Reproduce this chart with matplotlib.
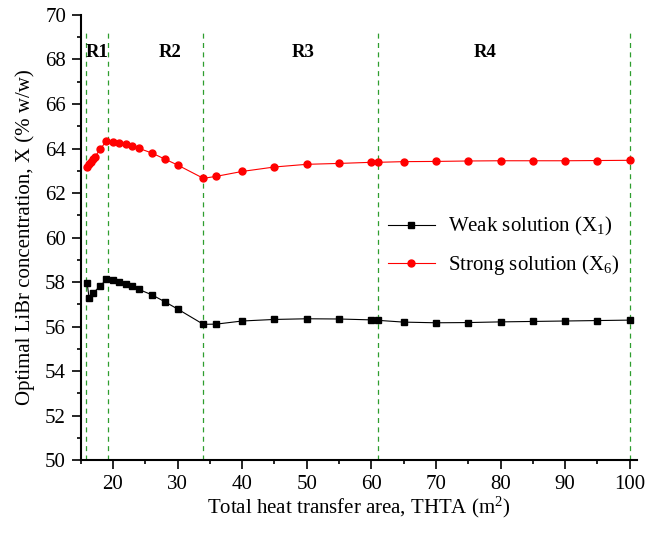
import matplotlib
matplotlib.use("Agg")
import matplotlib.pyplot as plt

plt.rcParams['font.family'] = ['Liberation Serif', 'DejaVu Serif']
plt.rcParams['mathtext.fontset'] = 'custom'
plt.rcParams['mathtext.rm'] = 'Liberation Serif'
plt.rcParams['mathtext.it'] = 'Liberation Serif'

# weak solution (X1)
weak_x = [16, 16.3, 16.9, 18, 19, 20, 21, 22, 23, 24, 26, 28, 30, 34, 36, 40,
          45, 50, 55, 60, 61, 65, 70, 75, 80, 85, 90, 95, 100]
weak_y = [57.97, 57.30, 57.49, 57.82, 58.12, 58.08, 58.00, 57.91, 57.81, 57.67,
          57.43, 57.12, 56.79, 56.10, 56.11, 56.25,
          56.32, 56.35, 56.34, 56.30, 56.28, 56.20, 56.17, 56.18, 56.21, 56.23,
          56.25, 56.27, 56.29]

# strong solution (X6)
strong_x = [16, 16.3, 16.6, 16.9, 17.2, 18, 19, 20, 21, 22, 23, 24, 26, 28, 30,
            34, 36, 40, 45, 50, 55, 60, 61, 65, 70, 75, 80, 85, 90, 95, 100]
strong_y = [63.16, 63.29, 63.38, 63.51, 63.62, 63.96, 64.34, 64.31, 64.26, 64.19,
            64.10, 64.01, 63.80, 63.53, 63.26, 62.66, 62.75, 62.97, 63.17, 63.29,
            63.33, 63.38, 63.38, 63.41, 63.42, 63.44, 63.45, 63.45, 63.45, 63.46,
            63.47]

# region boundaries and labels
bounds = [15.85, 19.2, 34, 61, 100]
region_names = ['R1', 'R2', 'R3', 'R4']
region_x = [17.6, 28.8, 49.4, 77.6]

fig = plt.figure(figsize=(6.61, 5.35), dpi=100)
ax = fig.add_axes([0.122, 0.14, 0.8415, 0.832])

ax.vlines(bounds, 50, 69.2, colors='#2e9e2e', linestyles=(0, (4, 3.5)), linewidth=0.9)

ax.plot(weak_x, weak_y, color='black', marker='s', markersize=4.3, linewidth=0.8,
        label='Weak solution (X$_1$)')
ax.plot(strong_x, strong_y, color='red', marker='o', markersize=5, linewidth=0.8,
        label='Strong solution (X$_6$)')

for name, xx in zip(region_names, region_x):
    ax.text(xx, 68.3, name, ha='center', va='center', fontsize=13.5, fontweight='bold')

ax.set_xlim(15, 101.1)
ax.set_ylim(50, 70)
ax.set_xticks(range(20, 101, 10))
ax.set_xticks(range(15, 101, 5), minor=True)
ax.set_yticks(range(50, 71, 2))
ax.set_yticks(range(50, 71, 1), minor=True)
ax.tick_params(axis='both', which='major', direction='out', length=6.5, width=1.2,
               labelsize=15, pad=4)
ax.tick_params(axis='both', which='minor', direction='out', length=3, width=1.2)
for side in ['top', 'right']:
    ax.spines[side].set_visible(False)
for side in ['left', 'bottom']:
    ax.spines[side].set_linewidth(1.5)

ax.set_xlabel('Total heat transfer area, THTA (m$^2$)', fontsize=15, labelpad=1)
ax.set_ylabel('Optimal LiBr concentration, X (% w/w)', fontsize=15, labelpad=7)

ax.legend(loc='upper left', bbox_to_anchor=(0.518, 0.592), frameon=False, fontsize=15,
          handlelength=2.3, handletextpad=0.6, labelspacing=0.7)

fig.savefig('out.png', dpi=100)
